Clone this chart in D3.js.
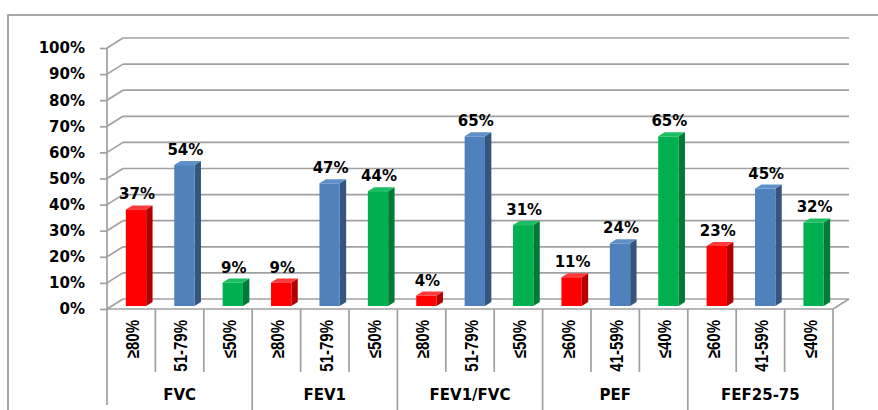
<!DOCTYPE html>
<html>
<head>
<meta charset="utf-8">
<script src="https://cdn.jsdelivr.net/npm/d3@7"></script>
<style>
  body { margin: 0; background: #fff; }
  svg text { fill: #000; }
</style>
</head>
<body>
<div id="chart"></div>
<script>
// data
const groups = ["FVC", "FEV1", "FEV1/FVC", "PEF", "FEF25-75"];
const categories = [
  "≥80%", "51-79%", "≤50%",
  "≥80%", "51-79%", "≤50%",
  "≥80%", "51-79%", "≤50%",
  "≥60%", "41-59%", "≤40%",
  "≥60%", "41-59%", "≤40%"
];
const values = [37, 54, 9, 9, 47, 44, 4, 65, 31, 11, 24, 65, 23, 45, 32];
const yTicks = [0, 10, 20, 30, 40, 50, 60, 70, 80, 90, 100];
const seriesColors = [
  { front: "#FF0000", side: "#B00000", top: "#FF3A3A" },
  { front: "#4F81BD", side: "#35557E", top: "#5F8FC8" },
  { front: "#00B050", side: "#007A36", top: "#1DBE62" }
];

const width = 878, height = 410;
const depth = [16, -10];   // recul du mur du fond
const gridColor = "#A0A0A0";

const svg = d3.select("#chart").append("svg")
  .attr("width", width)
  .attr("height", height);

// cadre extérieur
svg.append("rect")
  .attr("x", 8).attr("y", 15)
  .attr("width", 900).attr("height", 420)
  .attr("fill", "none")
  .attr("stroke", "#8C8C8C")
  .attr("stroke-width", 1.5);

const x = d3.scaleBand()
  .domain(d3.range(categories.length))
  .range([107, 833]);

const y = d3.scaleLinear()
  .domain([0, 100])
  .range([309, 48]);

const x0 = x.range()[0], x1 = x.range()[1];

// grille : mur du fond + diagonales du mur gauche
const grid = svg.append("g")
  .attr("stroke", gridColor)
  .attr("stroke-width", 1.7)
  .attr("fill", "none");

yTicks.forEach(t => {
  grid.append("line")
    .attr("x1", x0 + depth[0]).attr("y1", y(t) + depth[1])
    .attr("x2", x1 + depth[0]).attr("y2", y(t) + depth[1]);
  grid.append("line")
    .attr("x1", x0).attr("y1", y(t))
    .attr("x2", x0 + depth[0]).attr("y2", y(t) + depth[1]);
});

// plancher : bord avant et diagonale droite
grid.append("line")
  .attr("x1", x0).attr("y1", y(0))
  .attr("x2", x1).attr("y2", y(0));
grid.append("line")
  .attr("x1", x1).attr("y1", y(0))
  .attr("x2", x1 + depth[0]).attr("y2", y(0) + depth[1]);

// axe vertical
const yAxis = d3.axisLeft(y)
  .tickValues(yTicks)
  .tickFormat(d => d + "%")
  .tickSize(7)
  .tickPadding(15);

const axisG = svg.append("g")
  .attr("transform", `translate(${x0},0)`)
  .call(yAxis);
axisG.select(".domain").remove();
axisG.selectAll(".tick line")
  .attr("stroke", gridColor)
  .attr("stroke-width", 1.7);
axisG.selectAll(".tick text")
  .attr("font-family", "DejaVu Sans, Verdana, sans-serif")
  .attr("font-weight", "bold")
  .attr("font-size", 15)
  .attr("fill", "#000");

// lignes verticales de l'axe des catégories
const catLines = svg.append("g")
  .attr("stroke", gridColor)
  .attr("stroke-width", 1.7);

catLines.append("line")
  .attr("x1", x0).attr("x2", x0)
  .attr("y1", y(100)).attr("y2", 405);

d3.range(1, categories.length + 1).forEach(i => {
  const xi = i < categories.length ? x(i) : x1;
  const isGroup = i % 3 === 0;
  catLines.append("line")
    .attr("x1", xi).attr("x2", xi)
    .attr("y1", y(0))
    .attr("y2", isGroup ? 410 : 372);
});

// barres 3D
const bw = x.bandwidth() * 0.42;
const f0 = 0.3, f1 = 0.7;   // position de la barre en profondeur
const bars = svg.append("g");

values.forEach((v, i) => {
  const c = seriesColors[i % 3];
  const cx = x(i) + x.bandwidth() / 2 + depth[0] * f0;
  const left = cx - bw / 2, right = cx + bw / 2;
  const base = y(0) + depth[1] * f0;
  const top = y(v) + depth[1] * f0;
  const dx = depth[0] * (f1 - f0), dy = depth[1] * (f1 - f0);

  bars.append("path")
    .attr("d", `M${right},${top} L${right + dx},${top + dy} L${right + dx},${base + dy} L${right},${base} Z`)
    .attr("fill", c.side);
  bars.append("path")
    .attr("d", `M${left},${top} L${left + dx},${top + dy} L${right + dx},${top + dy} L${right},${top} Z`)
    .attr("fill", c.top);
  bars.append("rect")
    .attr("x", left).attr("y", top)
    .attr("width", bw).attr("height", base - top)
    .attr("fill", c.front);

  bars.append("text")
    .attr("x", cx + 1)
    .attr("y", top + dy - 6)
    .attr("text-anchor", "middle")
    .attr("font-family", "DejaVu Sans, Verdana, sans-serif")
    .attr("font-weight", "bold")
    .attr("font-size", 15)
    .text(v + "%");
});

// étiquettes des catégories (verticales)
svg.append("g")
  .selectAll("text")
  .data(categories)
  .join("text")
  .attr("transform", (d, i) => `translate(${x(i) + x.bandwidth() / 2 + 1},320) rotate(-90) scale(1,1.25)`)
  .attr("text-anchor", "end")
  .attr("dy", "0.36em")
  .attr("font-family", "Liberation Sans, Arial, sans-serif")
  .attr("font-weight", "bold")
  .attr("font-size", 15)
  .text(d => d);

// étiquettes des groupes
svg.append("g")
  .selectAll("text")
  .data(groups)
  .join("text")
  .attr("x", (d, i) => x(i * 3) + x.bandwidth() * 1.5)
  .attr("y", 400)
  .attr("text-anchor", "middle")
  .attr("font-family", "DejaVu Sans, Verdana, sans-serif")
  .attr("font-weight", "bold")
  .attr("font-size", 15)
  .text(d => d);
</script>
</body>
</html>
